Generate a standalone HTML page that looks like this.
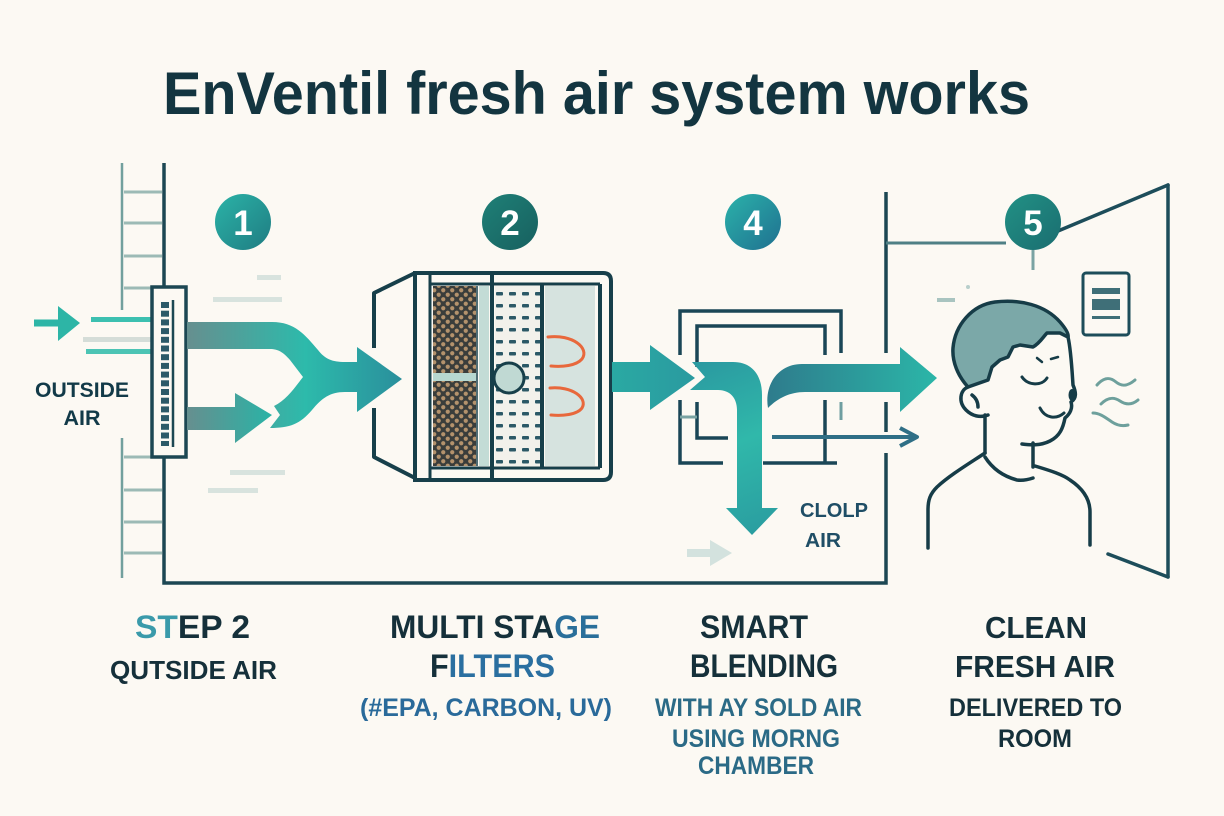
<!DOCTYPE html>
<html><head><meta charset="utf-8"><style>
html,body{margin:0;padding:0;background:#fcf9f3;}
svg{display:block;}
text{font-family:"Liberation Sans",Arial,sans-serif;font-weight:bold;}
</style></head><body>
<svg width="1224" height="816" viewBox="0 0 1224 816" xmlns="http://www.w3.org/2000/svg">
<defs>
<linearGradient id="gA" x1="187" y1="0" x2="402" y2="0" gradientUnits="userSpaceOnUse">
<stop offset="0" stop-color="#668f8f"/><stop offset="0.55" stop-color="#2dbaab"/><stop offset="1" stop-color="#2a8f9c"/></linearGradient>
<linearGradient id="gB" x1="187" y1="0" x2="272" y2="0" gradientUnits="userSpaceOnUse">
<stop offset="0" stop-color="#668f8f"/><stop offset="1" stop-color="#2ab3a6"/></linearGradient>
<linearGradient id="gC" x1="612" y1="0" x2="695" y2="0" gradientUnits="userSpaceOnUse">
<stop offset="0" stop-color="#2aa9a3"/><stop offset="1" stop-color="#2a9aa0"/></linearGradient>
<linearGradient id="gT" x1="690" y1="360" x2="760" y2="535" gradientUnits="userSpaceOnUse">
<stop offset="0" stop-color="#2a98a0"/><stop offset="0.5" stop-color="#30b8aa"/><stop offset="1" stop-color="#2a9da0"/></linearGradient>
<linearGradient id="gR" x1="766" y1="0" x2="937" y2="0" gradientUnits="userSpaceOnUse">
<stop offset="0" stop-color="#2e7b8c"/><stop offset="1" stop-color="#2bb6a8"/></linearGradient>
<linearGradient id="c1" x1="0" y1="0" x2="1" y2="1"><stop offset="0" stop-color="#2bb3a7"/><stop offset="1" stop-color="#1f7c82"/></linearGradient>
<linearGradient id="c2" x1="0" y1="0" x2="1" y2="1"><stop offset="0" stop-color="#1f8077"/><stop offset="1" stop-color="#17605f"/></linearGradient>
<linearGradient id="c4" x1="0" y1="0" x2="1" y2="1"><stop offset="0" stop-color="#2bb2aa"/><stop offset="1" stop-color="#1f7090"/></linearGradient>
<linearGradient id="c5" x1="0" y1="0" x2="1" y2="1"><stop offset="0" stop-color="#229185"/><stop offset="1" stop-color="#1a6d70"/></linearGradient>
<pattern id="dots" width="9" height="9" patternUnits="userSpaceOnUse">
<rect width="9" height="9" fill="#3a3d3b"/><circle cx="2.25" cy="2.25" r="2.1" fill="#b4926c"/><circle cx="6.75" cy="6.75" r="2.1" fill="#b4926c"/></pattern>
<pattern id="dash" width="13" height="12" patternUnits="userSpaceOnUse">
<rect width="13" height="12" fill="#f2f1eb"/><rect x="2" y="4" width="7" height="3.5" rx="1" fill="#2b5866"/></pattern>
</defs>

<rect width="1224" height="816" fill="#fcf9f3"/>

<!-- Title -->
<text x="163" y="114" font-size="60" fill="#133540" textLength="867" lengthAdjust="spacingAndGlyphs">EnVentil fresh air system works</text>

<!-- Outside wall -->
<g stroke="#72a09d" stroke-width="2.5">
<line x1="122" y1="163" x2="122" y2="310"/><line x1="122" y1="438" x2="122" y2="578"/>
</g>
<g stroke="#9cbab5" stroke-width="3">
<line x1="124" y1="192" x2="162" y2="192"/><line x1="124" y1="223" x2="162" y2="223"/>
<line x1="124" y1="256" x2="162" y2="256"/><line x1="124" y1="288" x2="152" y2="288"/>
<line x1="124" y1="457" x2="162" y2="457"/><line x1="124" y1="490" x2="162" y2="490"/>
<line x1="124" y1="522" x2="162" y2="522"/><line x1="124" y1="553" x2="162" y2="553"/>
</g>
<path d="M164,163 L164,583 L886,583 L886,453" fill="none" stroke="#1c4753" stroke-width="3.5"/>
<g stroke="#1c4753" stroke-width="3.5">
<line x1="886" y1="192" x2="886" y2="353"/><line x1="886" y1="402" x2="886" y2="432"/>
</g>

<!-- speed lines -->
<g fill="#d8e3de">
<rect x="257" y="275" width="24" height="5"/><rect x="213" y="297" width="69" height="5"/>
<rect x="230" y="470" width="55" height="5"/><rect x="208" y="488" width="50" height="5"/>
</g>
<rect x="91" y="317" width="60" height="5" fill="#3cc0b0"/>
<rect x="83" y="337" width="68" height="5" fill="#d5ddd8"/>
<rect x="86" y="349" width="65" height="5" fill="#4cc4b4"/>
<line x1="34" y1="323" x2="62" y2="323" stroke="#2db5a6" stroke-width="7"/>
<polygon points="58,306 80,323 58,341" fill="#2db5a6"/>

<!-- vent -->
<rect x="152" y="287" width="34" height="170" fill="#fcf9f3" stroke="#1c4753" stroke-width="3.5"/>
<g fill="#2c5a68">
<rect x="161" y="302" width="8" height="6"/><rect x="161" y="310.7" width="8" height="6"/><rect x="161" y="319.4" width="8" height="6"/>
<rect x="161" y="328.1" width="8" height="6"/><rect x="161" y="336.8" width="8" height="6"/><rect x="161" y="345.5" width="8" height="6"/>
<rect x="161" y="354.2" width="8" height="6"/><rect x="161" y="362.9" width="8" height="6"/><rect x="161" y="371.6" width="8" height="6"/>
<rect x="161" y="380.3" width="8" height="6"/><rect x="161" y="389" width="8" height="6"/><rect x="161" y="397.7" width="8" height="6"/>
<rect x="161" y="406.4" width="8" height="6"/><rect x="161" y="415.1" width="8" height="6"/><rect x="161" y="423.8" width="8" height="6"/>
<rect x="161" y="432.5" width="8" height="6"/><rect x="161" y="441" width="8" height="5"/>
</g>
<line x1="173" y1="300" x2="173" y2="447" stroke="#1c4753" stroke-width="2.5"/>

<text x="82" y="397" font-size="21" fill="#123a48" text-anchor="middle" textLength="94" lengthAdjust="spacingAndGlyphs">OUTSIDE</text>
<text x="82" y="425" font-size="21" fill="#123a48" text-anchor="middle" textLength="37" lengthAdjust="spacingAndGlyphs">AIR</text>

<!-- step circles -->
<circle cx="243" cy="222" r="28" fill="url(#c1)"/>
<text x="243" y="235" font-size="35" fill="#fff" text-anchor="middle">1</text>
<circle cx="510" cy="222" r="28" fill="url(#c2)"/>
<text x="510" y="235" font-size="35" fill="#fff" text-anchor="middle">2</text>
<circle cx="753" cy="222" r="28" fill="url(#c4)"/>
<text x="753" y="235" font-size="35" fill="#fff" text-anchor="middle">4</text>

<!-- merge arrow -->
<path d="M187,322 L272,322 C295,322 305,335 318,350 C325,359 332,362 345,362 L357,362 L357,347 L402,379 L357,412 L357,392 L345,392 C330,392 322,398 312,410 C300,424 290,428 270,428 L280,415 L274,406 C286,400 293,390 303,377 L290,360 C283,352 278,349 270,349 L187,349 Z" fill="url(#gA)"/>
<path d="M187,407 L235,407 L235,393 L272,415 L235,443 L235,430 L187,430 Z" fill="url(#gB)"/>

<!-- filter unit -->
<path d="M415,273 L374,293 L374,348 M374,408 L374,457 L415,478" fill="none" stroke="#173f4a" stroke-width="4" stroke-linejoin="round"/>
<path d="M415,273 L603,273 Q611,273 611,281 L611,472 Q611,480 603,480 L415,480 Z" fill="#fcf9f3" stroke="#173f4a" stroke-width="4"/>
<rect x="433" y="286" width="43" height="180" fill="url(#dots)"/>
<rect x="433" y="373" width="43" height="8" fill="#b7d7d0"/>
<rect x="479" y="286" width="10" height="180" fill="#c3dcd6"/>
<rect x="495" y="286" width="45" height="180" fill="url(#dash)"/>
<rect x="545" y="286" width="50" height="180" fill="#d6e3df"/>
<g stroke="#173f4a" fill="none">
<line x1="430" y1="273" x2="430" y2="480" stroke-width="3"/>
<line x1="430" y1="284" x2="600" y2="284" stroke-width="3"/>
<line x1="430" y1="468" x2="600" y2="468" stroke-width="3"/>
<line x1="600" y1="284" x2="600" y2="468" stroke-width="4"/>
<line x1="492" y1="273" x2="492" y2="480" stroke-width="4"/>
<line x1="542" y1="284" x2="542" y2="468" stroke-width="4"/>
<line x1="477" y1="286" x2="477" y2="466" stroke-width="1.5"/>
</g>
<circle cx="509" cy="378" r="15" fill="#c0d9d3" stroke="#173f4a" stroke-width="3"/>
<g fill="none" stroke="#e8683c" stroke-width="3" stroke-linecap="round">
<path d="M548,337 C572,334 590,348 582,359 C576,366 562,367 551,366"/>
<path d="M550,388 C572,386 588,398 582,408 C577,415 562,416 551,415"/>
</g>

<!-- arrow filter -> blending -->
<path d="M612,362 L650,362 L650,345 L695,378 L650,410 L650,392 L612,392 Z" fill="url(#gC)"/>

<!-- blending chamber -->
<g stroke="#1a4656" stroke-width="3.5" fill="none">
<path d="M680,355 L680,311 L841,311 L841,353"/>
<path d="M680,400 L680,463 L723,463"/>
<path d="M697,367 L697,326 L825,326 L825,355"/>
<path d="M697,402 L697,438 L728,438"/>
<line x1="825" y1="400" x2="825" y2="463"/>
<line x1="763" y1="463" x2="837" y2="463"/>
</g>
<line x1="841" y1="402" x2="841" y2="420" stroke="#6f9ea0" stroke-width="3"/>
<line x1="680" y1="417" x2="697" y2="417" stroke="#7aa3a3" stroke-width="3"/>
<path d="M692,362 L733,362 C752,362 762,375 762,395 L762,508 L778,508 L752,535 L726,508 L737,508 L737,410 C737,398 730,390 718,390 L690,390 L705,377 Z" fill="url(#gT)"/>
<path d="M768,408 C764,385 778,364 802,364 L900,364 L900,347 L937,378 L900,412 L900,392 L805,392 C790,392 778,398 768,408 Z" fill="url(#gR)"/>
<line x1="772" y1="437" x2="914" y2="437" stroke="#2f6f86" stroke-width="4"/>
<polyline points="900,428 917,437 900,446" fill="none" stroke="#2f6f86" stroke-width="4" stroke-linejoin="round"/>
<rect x="687" y="549" width="24" height="8" fill="#d3e2de"/>
<polygon points="710,540 732,553 710,566" fill="#d3e2de"/>
<text x="800" y="517" font-size="20" fill="#1f4e66" textLength="68" lengthAdjust="spacingAndGlyphs">CLOLP</text>
<text x="805" y="547" font-size="20" fill="#1f4e66" textLength="36" lengthAdjust="spacingAndGlyphs">AIR</text>

<!-- room -->
<line x1="886" y1="243" x2="1006" y2="243" stroke="#4f8085" stroke-width="3"/>
<line x1="1033" y1="250" x2="1033" y2="270" stroke="#7aa3a3" stroke-width="3"/>
<g stroke="#1d4d5a" stroke-width="3.5" fill="none" stroke-linecap="round">
<line x1="1058" y1="231" x2="1168" y2="185"/>
<line x1="1168" y1="185" x2="1168" y2="577"/>
<line x1="1108" y1="554" x2="1168" y2="577"/>
</g>
<circle cx="1033" cy="222" r="28" fill="url(#c5)"/>
<text x="1033" y="235" font-size="35" fill="#fff" text-anchor="middle">5</text>
<rect x="937" y="298" width="18" height="4" fill="#a9c4c0"/>
<circle cx="968" cy="287" r="2" fill="#b8cfcb"/>
<rect x="1083" y="273" width="46" height="62" rx="3" fill="#fcf9f3" stroke="#1d4d5a" stroke-width="3"/>
<rect x="1092" y="288" width="28" height="6" fill="#3f6f78"/>
<rect x="1092" y="299" width="28" height="11" fill="#3f6f78"/>
<rect x="1092" y="316" width="28" height="3" fill="#3f6f78"/>

<!-- person -->
<g stroke="#163c47" stroke-width="3.5" fill="none" stroke-linecap="round" stroke-linejoin="round">
<path d="M968,387 C958,376 952,362 953,348 C955,325 972,305 995,302 C1020,299 1045,305 1060,322 C1066,329 1069,334 1068,337 L1060,333 L1047,333 C1043,337 1040,343 1033,347 L1020,345 L1013,347 L1008,357 L1000,360 L992,367 L988,380 Z" fill="#7ba8a8"/>
<path d="M1068,337 C1071,350 1072,370 1073,385 C1076,392 1077,398 1071,402 C1073,408 1070,414 1065,418 C1063,428 1060,436 1050,441 C1040,446 1030,445 1022,444"/>
<path d="M968,387 C960,390 958,402 966,410 C972,416 980,418 988,415"/>
<path d="M972,395 C976,398 978,402 978,407"/>
<path d="M985,415 L985,453"/>
<path d="M1033,443 L1033,467"/>
<path d="M985,453 C970,463 950,475 937,487 C930,494 928,500 928,510 L928,548"/>
<path d="M985,457 C992,468 1002,476 1017,480 C1024,481 1030,479 1033,478"/>
<path d="M1035,466 C1048,470 1062,474 1070,480 C1082,488 1090,498 1090,512 L1090,545"/>
<path d="M1022,377 C1028,386 1042,386 1047,378" stroke-width="3"/>
<path d="M1037,358 L1042,362" stroke-width="2.5"/>
<path d="M1051,359 L1058,357" stroke-width="2.5"/>
<path d="M1040,408 C1045,418 1056,420 1064,413" stroke-width="3"/>
</g>
<ellipse cx="1072" cy="395" rx="3.5" ry="6" fill="#163c47"/>
<g stroke="#6ea09c" stroke-width="3" fill="none" stroke-linecap="round">
<path d="M1097,385 C1104,377 1110,377 1116,382 C1122,387 1128,386 1135,380"/>
<path d="M1101,404 C1108,397 1114,397 1120,401 C1126,405 1132,405 1138,400"/>
<path d="M1093,413 C1100,413 1106,418 1112,422 C1118,426 1124,426 1128,425"/>
</g>

<!-- bottom labels -->
<text x="135" y="638" font-size="32" fill="#15303a" textLength="115" lengthAdjust="spacingAndGlyphs"><tspan fill="#3a9aaa">ST</tspan>EP 2</text>
<text x="110" y="679" font-size="26" fill="#15303a" textLength="167" lengthAdjust="spacingAndGlyphs">QUTSIDE AIR</text>

<text x="390" y="638" font-size="32" fill="#15303a" textLength="210" lengthAdjust="spacingAndGlyphs">MULTI STA<tspan fill="#2a6f9a">GE</tspan></text>
<text x="430" y="677" font-size="32" fill="#2a6fa0" textLength="125" lengthAdjust="spacingAndGlyphs"><tspan fill="#15303a">F</tspan>ILTERS</text>
<text x="360" y="716" font-size="25" fill="#2a6a9a" textLength="252" lengthAdjust="spacingAndGlyphs">(#EPA, CARBON, UV)</text>

<text x="700" y="638" font-size="32" fill="#15303a" textLength="108" lengthAdjust="spacingAndGlyphs">SMART</text>
<text x="690" y="677" font-size="32" fill="#15303a" textLength="148" lengthAdjust="spacingAndGlyphs">BLENDING</text>
<text x="655" y="716" font-size="25" fill="#2b6a86" textLength="207" lengthAdjust="spacingAndGlyphs">WITH AY SOLD AIR</text>
<text x="672" y="747" font-size="25" fill="#2b6a86" textLength="168" lengthAdjust="spacingAndGlyphs">USING MORNG</text>
<text x="698" y="774" font-size="25" fill="#2b6a86" textLength="116" lengthAdjust="spacingAndGlyphs">CHAMBER</text>

<text x="985" y="638" font-size="31" fill="#15303a" textLength="102" lengthAdjust="spacingAndGlyphs">CLEAN</text>
<text x="955" y="677" font-size="31" fill="#15303a" textLength="160" lengthAdjust="spacingAndGlyphs">FRESH AIR</text>
<text x="949" y="716" font-size="25" fill="#15303a" textLength="173" lengthAdjust="spacingAndGlyphs">DELIVERED TO</text>
<text x="998" y="747" font-size="25" fill="#15303a" textLength="74" lengthAdjust="spacingAndGlyphs">ROOM</text>
</svg>
</body></html>
